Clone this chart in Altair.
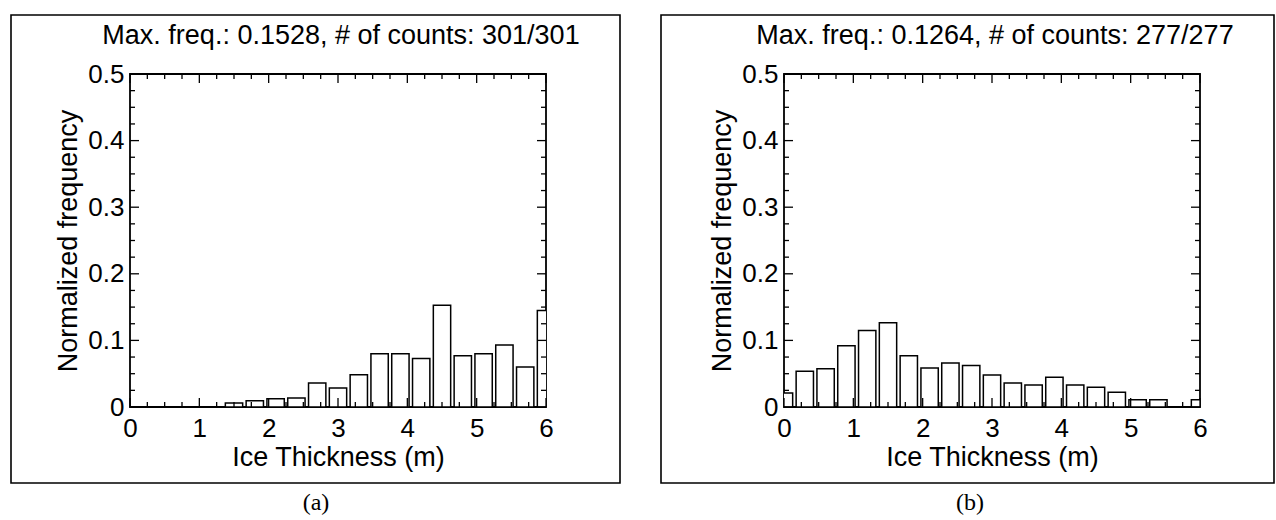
import altair as alt
import pandas as pd

# ---- data ----
bin_centers = [0.0, 0.3, 0.6, 0.9, 1.2, 1.5, 1.8, 2.1, 2.4, 2.7, 3.0,
               3.3, 3.6, 3.9, 4.2, 4.5, 4.8, 5.1, 5.4, 5.7, 6.0]
freq_a = [0.0, 0.0, 0.0, 0.0, 0.0, 0.006, 0.0095, 0.0125, 0.0135, 0.036, 0.0285,
          0.0485, 0.080, 0.080, 0.073, 0.1528, 0.077, 0.080, 0.093, 0.060, 0.145]
freq_b = [0.021, 0.0535, 0.0575, 0.092, 0.115, 0.1264, 0.077, 0.0585, 0.066, 0.0625, 0.048,
          0.036, 0.033, 0.0445, 0.033, 0.0295, 0.022, 0.011, 0.011, 0.0, 0.011]
BAR_WIDTH = 0.25

title_a = "Max. freq.: 0.1528, # of counts: 301/301"
title_b = "Max. freq.: 0.1264, # of counts: 277/277"
caption_a = "(a)"
caption_b = "(b)"
x_title = "Ice Thickness (m)"
y_title = "Normalized frequency"

x_major_ticks = [0, 1, 2, 3, 4, 5, 6]
x_minor_ticks = [0.25, 0.5, 0.75, 1.25, 1.5, 1.75, 2.25, 2.5, 2.75, 3.25, 3.5, 3.75,
                 4.25, 4.5, 4.75, 5.25, 5.5, 5.75]
y_major_ticks = [0, 0.1, 0.2, 0.3, 0.4, 0.5]
y_minor_ticks = [0.025, 0.05, 0.075, 0.125, 0.15, 0.175, 0.225, 0.25, 0.275,
                 0.325, 0.35, 0.375, 0.425, 0.45, 0.475]

# ---- layout / style ----
W, H = 416, 333
FONT = "Liberation Sans"
SERIF = "Liberation Serif"
MAJ, MIN = 9, 5

xs = alt.Scale(domain=[0, 6], nice=False, zero=False)
ys = alt.Scale(domain=[0, 0.5], nice=False, zero=False)
x_axis = alt.Axis(values=x_major_ticks, format="d", ticks=False, tickSize=0,
                  domain=False, grid=False, labelPadding=8, titlePadding=3,
                  labelFlush=False)
y_axis = alt.Axis(values=y_major_ticks, format=".1~f", ticks=False, tickSize=0,
                  domain=False, grid=False, labelPadding=6, titlePadding=5,
                  labelFlush=False)
one = pd.DataFrame({"k": [0]})


def tick_layers():
    xmaj = pd.DataFrame({"v": x_major_ticks})
    xmin = pd.DataFrame({"v": x_minor_ticks})
    ymaj = pd.DataFrame({"v": y_major_ticks})
    ymin = pd.DataFrame({"v": y_minor_ticks})
    layers = []
    for df, ln in ((xmaj, MAJ), (xmin, MIN)):
        xe = alt.X("v:Q", scale=xs, axis=x_axis, title=x_title)
        layers.append(alt.Chart(df).mark_rule(color="black", strokeWidth=1.3).encode(
            x=xe, y=alt.value(H), y2=alt.value(H - ln)))
        layers.append(alt.Chart(df).mark_rule(color="black", strokeWidth=1.3).encode(
            x=xe, y=alt.value(0), y2=alt.value(ln)))
    for df, ln in ((ymaj, MAJ), (ymin, MIN)):
        ye = alt.Y("v:Q", scale=ys, axis=y_axis, title=y_title)
        layers.append(alt.Chart(df).mark_rule(color="black", strokeWidth=1.3).encode(
            y=ye, x=alt.value(0), x2=alt.value(ln)))
        layers.append(alt.Chart(df).mark_rule(color="black", strokeWidth=1.3).encode(
            y=ye, x=alt.value(W), x2=alt.value(W - ln)))
    return layers


def make_panel(freqs, title_text, caption, frame_left):
    df = pd.DataFrame({"center": bin_centers, "freq": freqs})
    df = df[df["freq"] > 0].copy()
    df["lo"] = df["center"] - BAR_WIDTH / 2
    df["hi"] = df["center"] + BAR_WIDTH / 2

    bars = alt.Chart(df).mark_rect(fill="white", stroke="black", strokeWidth=1.5,
                                   clip=True).encode(
        x=alt.X("lo:Q", scale=xs, title=x_title, axis=x_axis),
        x2="hi:Q",
        y=alt.Y("freq:Q", scale=ys, title=y_title, axis=y_axis),
        y2=alt.datum(0),
    )

    frame = alt.Chart(one).mark_rect(fillOpacity=0, stroke="black", strokeWidth=1.6).encode(
        x=alt.value(frame_left), x2=alt.value(W + 74),
        y=alt.value(-59), y2=alt.value(H + 76))

    title = alt.Chart(one).mark_text(font=FONT, fontSize=27, align="center",
                                     baseline="middle", color="black").encode(
        x=alt.value(W / 2 + 3), y=alt.value(-38), text=alt.value(title_text))

    cap = alt.Chart(one).mark_text(font=SERIF, fontSize=24, align="center",
                                   baseline="middle", color="black").encode(
        x=alt.value(186), y=alt.value(H + 96), text=alt.value(caption))

    return alt.layer(bars, *tick_layers(), frame, title, cap).properties(width=W, height=H)


pa = make_panel(freq_a, title_a, caption_a, -119)
pb = make_panel(freq_b, title_b, caption_b, -123)

chart = alt.hconcat(pa, pb, spacing=238, bounds="flush").properties(
    padding={"left": 9, "top": 13, "right": 0, "bottom": 0},
    background="white",
).configure_view(
    stroke="black", strokeWidth=1.8
).configure_axis(
    labelFont=FONT, titleFont=FONT, labelFontSize=26, titleFontSize=27,
    labelColor="black", titleColor="black", titleFontWeight="normal"
)

chart.save("out.html", embed_options={"renderer": "svg", "actions": False})
